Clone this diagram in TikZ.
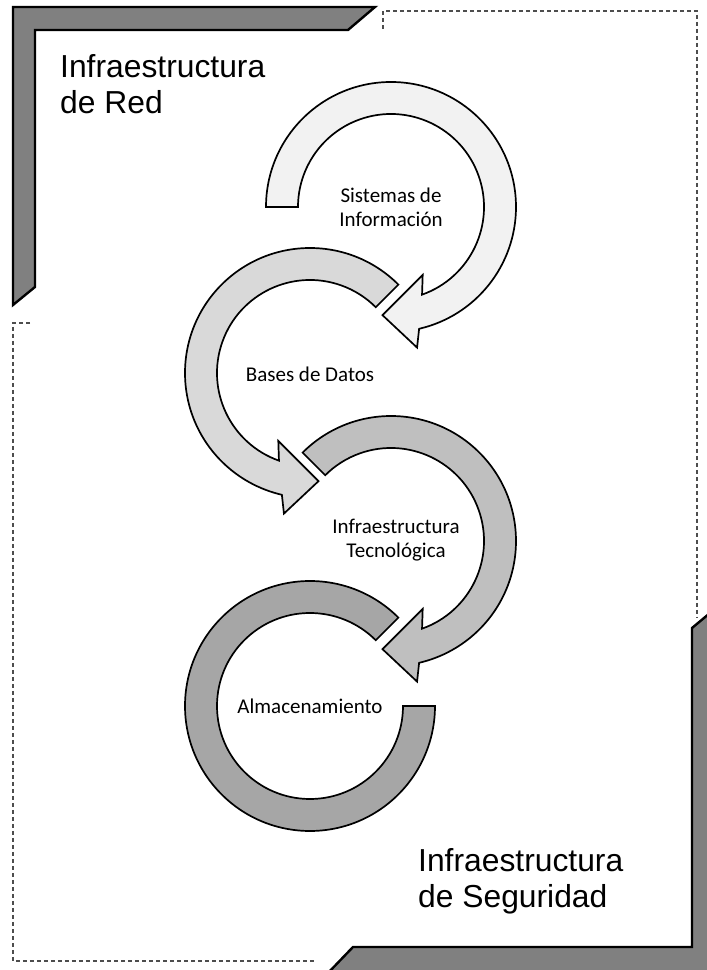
\documentclass[tikz,border=0pt]{standalone}
\usepackage{fontspec}
\setmainfont{Carlito}
\newfontfamily\arialfont{Liberation Sans}
\definecolor{bracketgray}{HTML}{808080}
\definecolor{dashgray}{HTML}{4D4D4D}
\definecolor{arrowA}{HTML}{F2F2F2}
\definecolor{arrowB}{HTML}{D9D9D9}
\definecolor{arrowC}{HTML}{BFBFBF}
\definecolor{arrowD}{HTML}{A6A6A6}
% clockwise circular arrow around the local origin, tail at angle #1
\newcommand{\cwarrowpath}[1]{(#1:125) arc[start angle=#1, end angle=-77, radius=125]
  -- (-79.5:143) -- (-94.5:108.5) -- (-65:75) -- (-70.5:93)
  arc[start angle=-70.5, end angle=#1, radius=93] -- cycle}
\begin{document}
\begin{tikzpicture}[x=1pt,y=1pt,
  bracket/.style={fill=bracketgray, draw=black, line width=2.4pt, line join=miter},
  guide/.style={draw=dashgray, line width=1.2pt, dash pattern=on 4pt off 3pt},
  ring/.style={draw=black, line width=1.7pt, line join=miter},
  steplabel/.style={font=\fontsize{21}{24}\selectfont, align=center, inner sep=0pt},
  arealabel/.style={font=\arialfont\fontsize{31.8}{36.5}\selectfont, align=left, anchor=north west, inner sep=0pt}]
\useasboundingbox (0,0) rectangle (707,970);
\clip (0,0) rectangle (707,970);

% corner brackets
\draw[bracket] (13,963) -- (375,963) -- (348,940) -- (35,940) -- (35,683) -- (13,665) -- cycle;
\draw[bracket] (328,-3) -- (353,23) -- (692,23) -- (692,342) -- (716,362) -- (716,-3) -- cycle;

% dashed frame pieces
\draw[guide] (383,941) -- (383,959) -- (697,959) -- (697,352);
\draw[guide] (30,647) -- (13,647) -- (13,9) -- (316,9);

% area labels
\node[arealabel] (netlabel) at (60,916) {Infraestructura\\de Red};
\node[arealabel] (seclabel) at (418,122) {Infraestructura\\de Seguridad};

% circular arrows
\begin{scope}[shift={(310,264)}]
  \draw[ring, fill=arrowD] (45:125) arc[start angle=45, end angle=360, radius=125]
    -- (0:93) arc[start angle=360, end angle=45, radius=93] -- cycle;
\end{scope}
\begin{scope}[shift={(391,429)}]
  \draw[ring, fill=arrowC] \cwarrowpath{135};
\end{scope}
\begin{scope}[shift={(310,597)}, xscale=-1]
  \draw[ring, fill=arrowB] \cwarrowpath{135};
\end{scope}
\begin{scope}[shift={(391,763)}]
  \draw[ring, fill=arrowA] \cwarrowpath{180};
\end{scope}

% step labels
\node[steplabel] (sis) at (391,763) {Sistemas de\\Información};
\node[steplabel] (bd) at (310,596) {Bases de Datos};
\node[steplabel] (tec) at (396,430) {Infraestructura\\Tecnológica};
\node[steplabel] (alm) at (310,264) {Almacenamiento};
\end{tikzpicture}
\end{document}
